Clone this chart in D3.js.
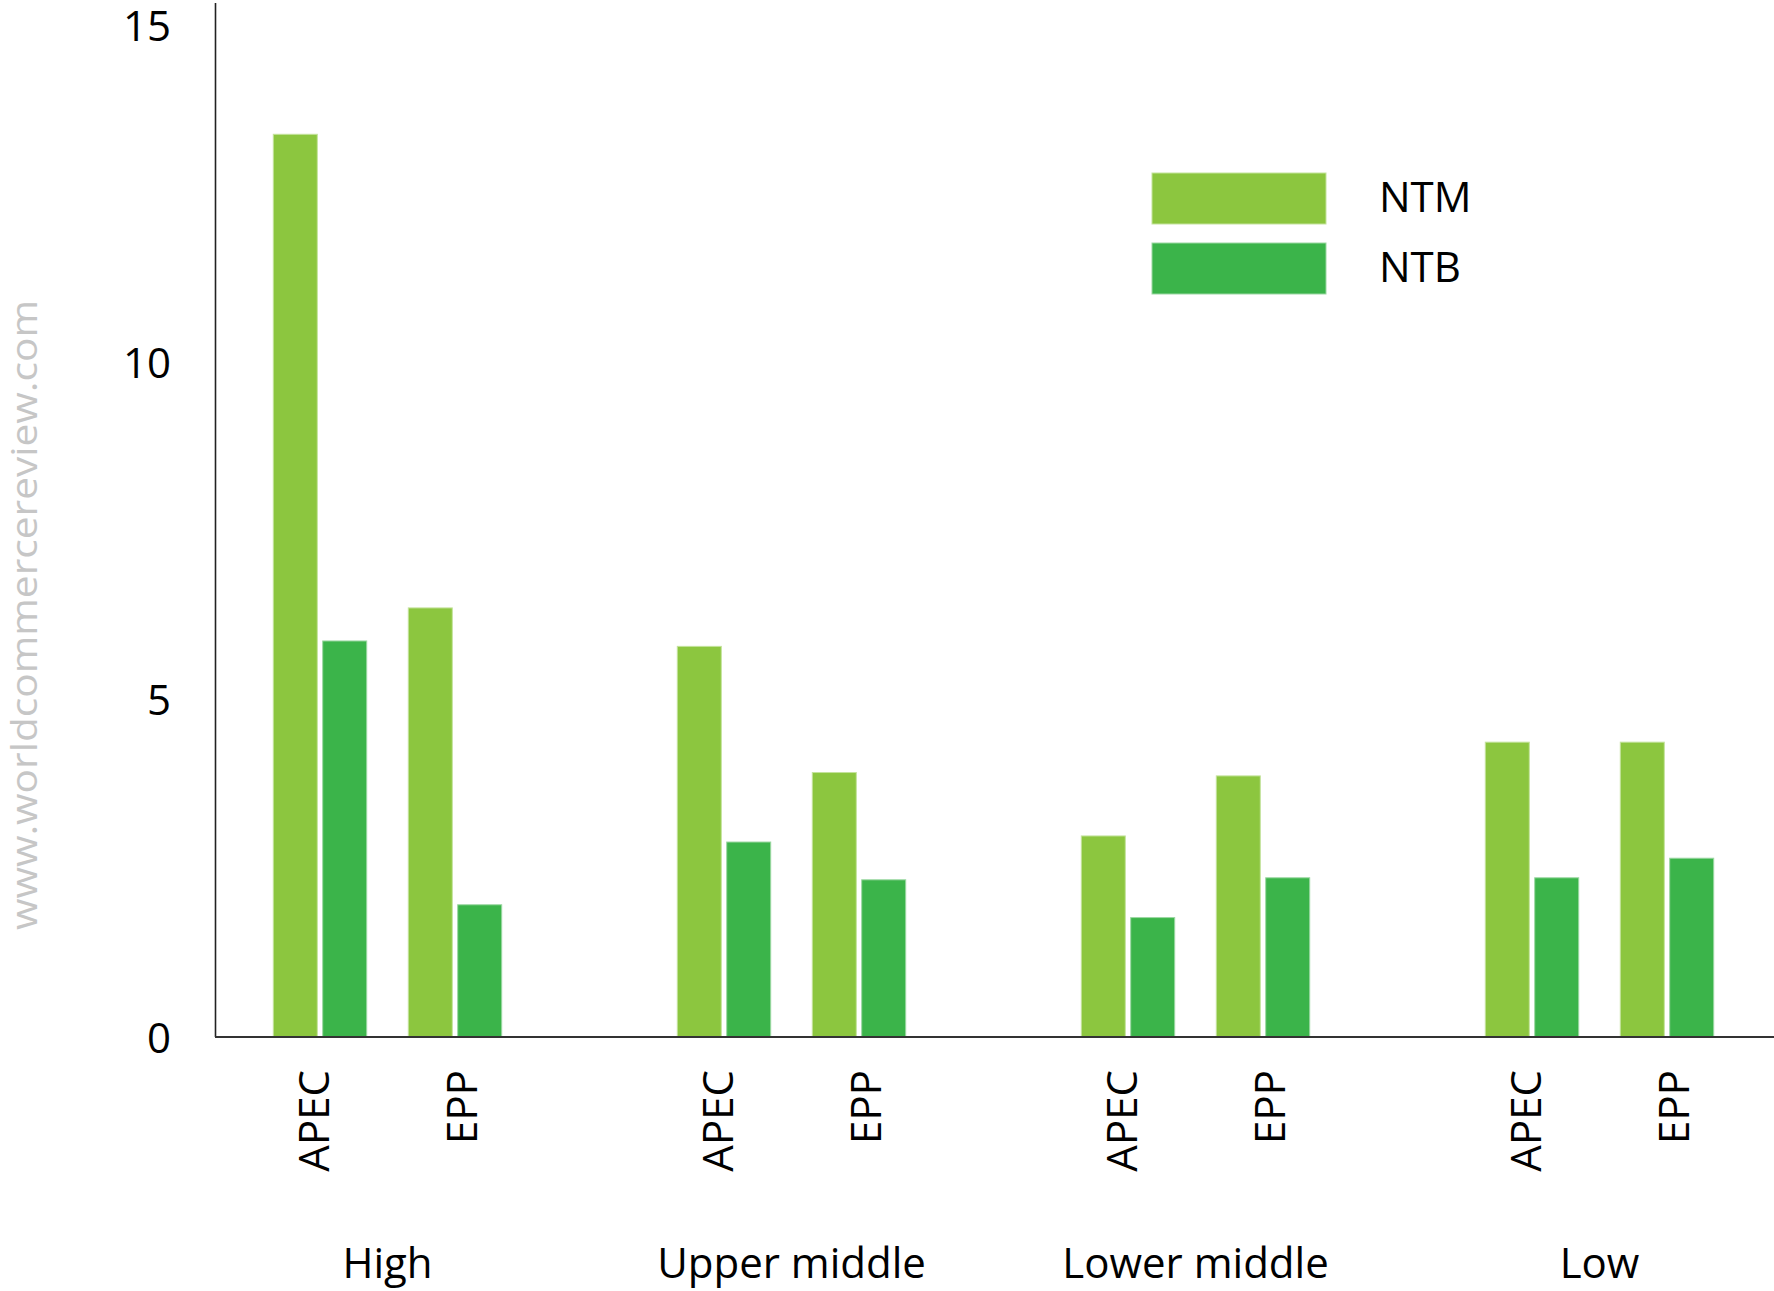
<!DOCTYPE html>
<html>
<head>
<meta charset="utf-8">
<script src="https://cdn.jsdelivr.net/npm/d3@7"></script>
<style>
  html, body { margin: 0; padding: 0; background: #ffffff; }
  svg { display: block; }
  text { font-family: "Open Sans", "Noto Sans", sans-serif; fill: #000; }
</style>
</head>
<body>
<script>
// Income groups along the x axis
const groups = ["High", "Upper middle", "Lower middle", "Low"];
// Agreement type within each income group
const agreements = ["APEC", "EPP"];
// Series drawn side by side for each agreement
const series = ["NTM", "NTB"];

// Values per group, in agreement order (APEC, EPP)
const ntmValues = [
  [13.38, 6.36],
  [5.79, 3.92],
  [2.98, 3.87],
  [4.37, 4.37]
];
const ntbValues = [
  [5.87, 1.96],
  [2.89, 2.33],
  [1.77, 2.36],
  [2.36, 2.65]
];

const yTicks = [0, 5, 10, 15];
const watermark = "www.worldcommercereview.com";

const W = 1774, H = 1291;
const colors = { NTM: "#8cc63f", NTB: "#3bb44a" };
const edges = { NTM: "#c4e39c", NTB: "#9bd7a2" };

const svg = d3.select("body").append("svg")
  .attr("width", W).attr("height", H);

const y = d3.scaleLinear().domain([0, 15]).range([1037, 25]);
const gx = d3.scalePoint().domain(groups).range([387.5, 1599.5]);
const ax = d3.scalePoint().domain(agreements).range([-67.5, 67.5]);
const sx = d3.scaleBand().domain(series).range([-46.7, 46.7]).paddingInner(0.109);

// Flatten to one record per bar
const bars = [];
groups.forEach((g, gi) => {
  agreements.forEach((a, ai) => {
    bars.push({ g, a, s: "NTM", v: ntmValues[gi][ai] });
    bars.push({ g, a, s: "NTB", v: ntbValues[gi][ai] });
  });
});

svg.append("g").selectAll("rect").data(bars).join("rect")
  .attr("x", d => gx(d.g) + ax(d.a) + sx(d.s))
  .attr("width", sx.bandwidth())
  .attr("y", d => y(d.v))
  .attr("height", d => y(0) - y(d.v))
  .attr("fill", d => colors[d.s])
  .attr("stroke", d => edges[d.s])
  .attr("stroke-width", 1);

// Y axis: labels only, plus a plain vertical rule
const yAxis = d3.axisLeft(y).tickValues(yTicks).tickSize(0).tickPadding(0).tickFormat(d3.format("d"));
const yg = svg.append("g").attr("transform", "translate(171,0)").call(yAxis);
yg.select(".domain").remove();
yg.selectAll("text")
  .attr("font-size", 42)
  .attr("font-family", "'Open Sans', sans-serif")
  .attr("fill", "#000")
  .attr("dy", "0.36em");

svg.append("line")
  .attr("x1", 215.5).attr("x2", 215.5)
  .attr("y1", y(0)).attr("y2", y(15) - 22)
  .attr("stroke", "#222").attr("stroke-width", 1.6);

svg.append("line")
  .attr("x1", 215).attr("x2", W)
  .attr("y1", y(0)).attr("y2", y(0))
  .attr("stroke", "#333").attr("stroke-width", 2);

// Agreement labels, rotated, under each pair of bars
const labelShift = { APEC: -6, EPP: 7 };
const cats = [];
groups.forEach(g => agreements.forEach(a => cats.push({ g, a })));
svg.append("g").selectAll("text").data(cats).join("text")
  .attr("transform", d => `translate(${gx(d.g) + ax(d.a) + labelShift[d.a]},1070) rotate(-90)`)
  .attr("text-anchor", "end")
  .attr("dy", "0.36em")
  .attr("font-size", 42)
  .text(d => d.a);

// Income group labels
svg.append("g").selectAll("text").data(groups).join("text")
  .attr("x", d => gx(d))
  .attr("y", 1278)
  .attr("text-anchor", "middle")
  .attr("font-size", 42)
  .text(d => d);

// Legend
const legend = svg.append("g").attr("transform", "translate(1152,173)");
series.forEach((s, i) => {
  legend.append("rect")
    .attr("x", 0).attr("y", i * 70)
    .attr("width", 174).attr("height", 51)
    .attr("fill", colors[s])
    .attr("stroke", edges[s]).attr("stroke-width", 1);
  legend.append("text")
    .attr("x", 227).attr("y", i * 70 + 38.5)
    .attr("font-size", 42)
    .text(s);
});

// Site watermark along the left edge
svg.append("text")
  .attr("transform", "translate(37,615) rotate(-90)")
  .attr("text-anchor", "middle")
  .attr("font-size", 37)
  .attr("textLength", 630)
  .attr("lengthAdjust", "spacingAndGlyphs")
  .style("fill", "#c6c6c6")
  .text(watermark);
</script>
</body>
</html>
